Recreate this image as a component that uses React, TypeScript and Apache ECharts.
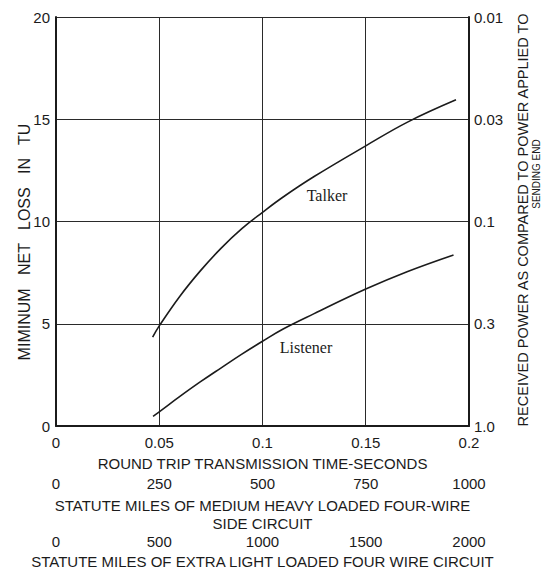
import React, { useEffect, useRef } from "react";
import * as echarts from "echarts";

// Round trip transmission time (s) and minimum net loss (TU)
const talkerTime = [0.0468, 0.05, 0.06, 0.07, 0.08, 0.09, 0.1, 0.11, 0.125, 0.15, 0.17, 0.1937];
const talkerLoss = [4.35, 4.9, 6.35, 7.6, 8.7, 9.65, 10.45, 11.2, 12.2, 13.7, 14.85, 15.95];
const listenerTime = [0.047, 0.05, 0.06, 0.07, 0.08, 0.09, 0.1, 0.11, 0.125, 0.15, 0.17, 0.1925];
const listenerLoss = [0.48, 0.7, 1.45, 2.17, 2.85, 3.52, 4.15, 4.75, 5.5, 6.7, 7.55, 8.37];

const timeLabels = ["0", "0.05", "0.1", "0.15", "0.2"];
const mediumMilesLabels = ["0", "250", "500", "750", "1000"];
const lightMilesLabels = ["0", "500", "1000", "1500", "2000"];
const lossLabels = ["0", "5", "10", "15", "20"];
const powerLabels = ["1.0", "0.3", "0.1", "0.03", "0.01"];

const SANS = "'Liberation Sans', Arial, sans-serif";
const SERIF = "'Liberation Serif', 'Times New Roman', serif";
const INK = "#1b1b1b";

export default function App() {
  const ref = useRef<HTMLDivElement>(null);
  useEffect(() => {
    if (!ref.current) return;
    const chart = echarts.init(ref.current, null, { renderer: "svg" });
    const pick = (arr: string[]) => (_v: number, i: number) => arr[i] ?? "";
    const zip = (xs: number[], ys: number[]) => xs.map((x, i) => [x, ys[i]]);
    const labelStyle = { color: INK, fontFamily: SANS, fontSize: 15 };
    chart.setOption({
      animation: false,
      backgroundColor: "#ffffff",
      grid: { left: 56, right: 75, top: 17, bottom: 141, containLabel: false },
      xAxis: [
        {
          type: "value",
          min: 0,
          max: 0.2,
          interval: 0.05,
          position: "bottom",
          axisLine: { show: true, onZero: false, lineStyle: { color: INK, width: 2 } },
          axisTick: { show: false },
          splitLine: { show: true, lineStyle: { color: "#2a2a2a", width: 1 } },
          axisLabel: { ...labelStyle, margin: 9, formatter: pick(timeLabels) },
          name: "ROUND TRIP TRANSMISSION TIME-SECONDS",
          nameLocation: "middle",
          nameGap: 30,
          nameTextStyle: { ...labelStyle },
        },
        {
          type: "value",
          min: 0,
          max: 1000,
          interval: 250,
          position: "bottom",
          offset: 44,
          axisLine: { show: false },
          axisTick: { show: false },
          splitLine: { show: false },
          axisLabel: { ...labelStyle, margin: 6, formatter: pick(mediumMilesLabels) },
          name: "STATUTE MILES OF MEDIUM HEAVY LOADED FOUR-WIRE\nSIDE CIRCUIT",
          nameLocation: "middle",
          nameGap: 25,
          nameTextStyle: { ...labelStyle, lineHeight: 18 },
        },
        {
          type: "value",
          min: 0,
          max: 2000,
          interval: 500,
          position: "bottom",
          offset: 102,
          axisLine: { show: false },
          axisTick: { show: false },
          splitLine: { show: false },
          axisLabel: { ...labelStyle, margin: 6, formatter: pick(lightMilesLabels) },
          name: "STATUTE MILES OF EXTRA LIGHT LOADED FOUR WIRE CIRCUIT",
          nameLocation: "middle",
          nameGap: 25,
          nameTextStyle: { ...labelStyle },
        },
      ],
      yAxis: [
        {
          type: "value",
          min: 0,
          max: 20,
          interval: 5,
          position: "left",
          axisLine: { show: true, onZero: false, lineStyle: { color: INK, width: 2 } },
          axisTick: { show: false },
          splitLine: { show: true, lineStyle: { color: "#2a2a2a", width: 1.2 } },
          axisLabel: { ...labelStyle, fontSize: 15, margin: 6, formatter: pick(lossLabels) },
        },
        {
          type: "value",
          min: 0,
          max: 20,
          interval: 5,
          position: "right",
          axisLine: { show: true, onZero: false, lineStyle: { color: INK, width: 2 } },
          axisTick: { show: false },
          splitLine: { show: false },
          axisLabel: { ...labelStyle, margin: 5, formatter: pick(powerLabels) },
        },
      ],
      series: [
        {
          name: "Talker",
          type: "line",
          xAxisIndex: 0,
          yAxisIndex: 0,
          data: zip(talkerTime, talkerLoss),
          smooth: 0.4,
          symbol: "none",
          lineStyle: { color: INK, width: 1.6 },
        },
        {
          name: "Listener",
          type: "line",
          xAxisIndex: 0,
          yAxisIndex: 0,
          data: zip(listenerTime, listenerLoss),
          smooth: 0.4,
          symbol: "none",
          lineStyle: { color: INK, width: 1.6 },
        },
      ],
      graphic: [
        {
          type: "text",
          x: 327,
          y: 195,
          style: { text: "Talker", fill: INK, font: `16px ${SERIF}`, align: "center", verticalAlign: "middle" },
        },
        {
          type: "text",
          x: 306,
          y: 347,
          style: { text: "Listener", fill: INK, font: `16px ${SERIF}`, align: "center", verticalAlign: "middle" },
        },
        {
          type: "text",
          x: 24,
          y: 242,
          rotation: Math.PI / 2,
          style: { text: "MIMINUM   NET   LOSS   IN   TU", fill: INK, font: `16px ${SANS}`, align: "center", verticalAlign: "middle" },
        },
        {
          type: "text",
          x: 523,
          y: 220,
          rotation: Math.PI / 2,
          style: { text: "RECEIVED POWER AS COMPARED TO POWER APPLIED TO", fill: INK, font: `14.5px ${SANS}`, align: "center", verticalAlign: "middle" },
        },
        {
          type: "text",
          x: 536,
          y: 174,
          rotation: Math.PI / 2,
          style: { text: "SENDING END", fill: INK, font: `10px ${SANS}`, align: "center", verticalAlign: "middle" },
        },
      ],
    });
    return () => chart.dispose();
  }, []);
  return <div ref={ref} style={{ position: "fixed", left: 0, top: 0, width: 544, height: 574 }} />;
}
